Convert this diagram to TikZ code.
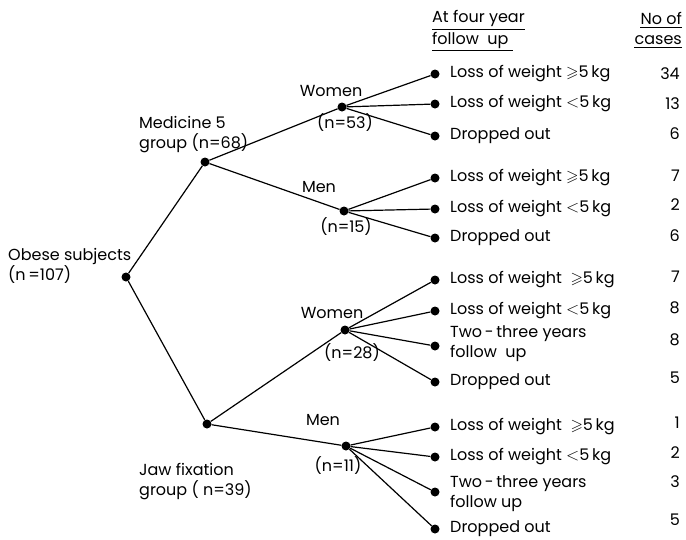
\documentclass[tikz,border=0pt]{standalone}
\usepackage{amssymb}
\usepackage{fontspec}
\setmainfont{Poppins}
\begin{document}
\begin{tikzpicture}[x=1pt,y=-1pt,
  dot/.style={circle,fill=black,inner sep=0pt,minimum size=9pt},
  lbl/.style={font=\fontsize{16}{20}\selectfont,inner sep=0pt,align=left},
  num/.style={font=\fontsize{16}{20}\selectfont,inner sep=0pt,anchor=east},
  edge/.style={line width=1.2pt},
  ul/.style={line width=1pt}]
\useasboundingbox (0,0) rectangle (686,539);
% tree dots
\node[dot] (root) at (126,277) {};
\node[dot] (med) at (205,162) {};
\node[dot] (jaw) at (207,424) {};
\node[dot] (w1) at (342,107) {};
\node[dot] (m1) at (344,211) {};
\node[dot] (w2) at (345,330) {};
\node[dot] (m2) at (346,446) {};
% leaves
\foreach \n/\y in {l1/74,l2/104,l3/136,l4/178,l5/209,l6/238,l7/280,l8/311,l9/346,l10/382,l11/427,l12/457,l13/492,l14/529}
  \node[dot] (\n) at (435,\y) {};
% edges
\draw[edge] (root) -- (med);
\draw[edge] (root) -- (jaw);
\draw[edge] (med) -- (w1);
\draw[edge] (med) -- (m1);
\draw[edge] (jaw) -- (w2);
\draw[edge] (jaw) -- (m2);
\foreach \a/\b in {w1/l1,w1/l2,w1/l3,m1/l4,m1/l5,m1/l6,w2/l7,w2/l8,w2/l9,w2/l10,m2/l11,m2/l12,m2/l13,m2/l14}
  \draw[edge] (\a) -- (\b);
% inner labels
\node[lbl,anchor=west] (troot) at (8,266) {Obese subjects\\(n\,=107)};
\node[lbl,anchor=west] (tmed) at (139,135) {Medicine 5\\group (n=68)};
\node[lbl,anchor=west] (tjaw) at (139,482) {Jaw fixation\\group ( n=39)};
\node[lbl] (tw1) at (331,91) {Women};
\node[lbl] (tn1) at (345,123) {(n=53)};
\node[lbl] (tm1) at (319,187) {Men};
\node[lbl] (tn2) at (346,227) {(n=15)};
\node[lbl] (tw2) at (332,313) {Women};
\node[lbl] (tn3) at (352,353) {(n=28)};
\node[lbl] (tm2) at (323,420) {Men};
\node[lbl] (tn4) at (338,466) {(n=11)};
% leaf labels
\foreach \n/\t in {l1/{Loss of weight $\geqslant$5\,kg},l2/{Loss of weight $<$5\,kg},l3/{Dropped out},
  l4/{Loss of weight $\geqslant$5\,kg},l5/{Loss of weight $<$5\,kg},l6/{Dropped out},
  l7/{Loss of weight \ $\geqslant$5\,kg},l8/{Loss of weight $<$5\,kg},l10/{Dropped out},
  l11/{Loss of weight \ $\geqslant$5\,kg},l12/{Loss of weight $<$5\,kg},l14/{Dropped out}}
  \node[lbl,anchor=west] (t\n) at ([xshift=15pt]\n.center) {\t};
\node[lbl,anchor=west] (tl9) at ([xshift=15pt,yshift=2pt]l9.center) {Two\,-\,three years\\follow\ \ up};
\node[lbl,anchor=west] (tl13) at ([xshift=15pt,yshift=-2pt]l13.center) {Two\,-\,three years\\follow up};
% numbers
\foreach \y/\v [count=\i] in {74/34,104/13,134/6,176/7,205/2,236/6,277/7,308/8,340/8,378/5,423/1,453/2,482/3,520/5}
  \node[num] (c\i) at (680,\y) {\v};
% headers
\node[lbl,anchor=west] (h1) at (432,18) {At four year};
\node[lbl,anchor=west] (h2) at (432,40) {follow\ \ up};
\node[lbl,anchor=east] (h3) at (682,18) {No of};
\node[lbl,anchor=east] (h4) at (682,40) {cases};
\draw[ul] ([yshift=-3pt]h1.south west) -- ([yshift=-3pt]h1.south east);
\draw[ul] ([yshift=-2pt]h2.south west) -- ([xshift=4pt,yshift=-2pt]h2.south east);
\draw[ul] ([yshift=-3pt]h3.south west) -- ([yshift=-3pt]h3.south east);
\draw[ul] ([yshift=-3pt]h4.south west) -- ([yshift=-3pt]h4.south east);
\end{tikzpicture}
\end{document}
